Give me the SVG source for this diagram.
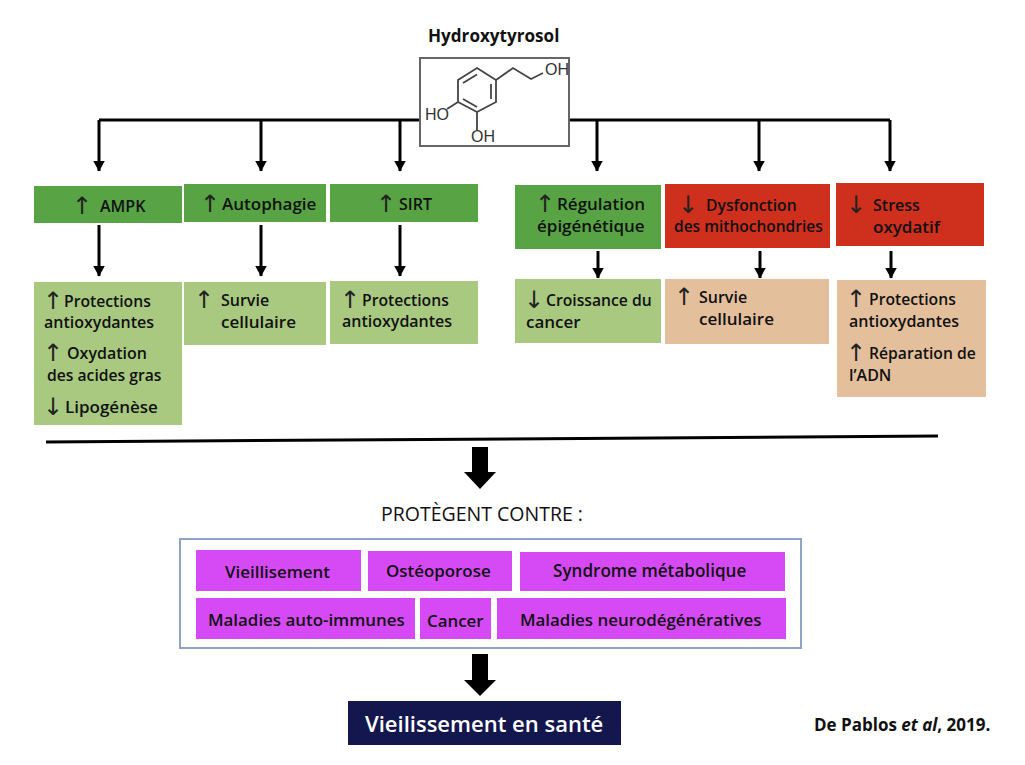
<svg xmlns="http://www.w3.org/2000/svg" width="1025" height="765" viewBox="0 0 1025 765">
<style>
text{font-family:"Open Sans","Liberation Sans",sans-serif;font-size:16px;font-weight:600;fill:#111}
.a{font-family:"DejaVu Sans",sans-serif;font-size:24px;font-weight:400;fill:#222}
.g{fill:#58a444}.l{fill:#a8c97f}.r{fill:#cf2f1d}.t{fill:#e3bf9c}.m{fill:#d64af5}
.c{fill:none;stroke:#000;stroke-width:3}
.b{fill:none;stroke:#444;stroke-width:1.8}
.f{font-family:"Liberation Sans",sans-serif;font-size:16px;font-weight:400;fill:#333}
.d{font-size:16.900px}
.w{font-size:17px}
.n{font-size:15.700px}
</style>
<defs>
<marker id="h" markerUnits="userSpaceOnUse" markerWidth="11" markerHeight="12" refX="10.500" refY="6" orient="auto" viewBox="0 0 11 12"><path d="M0 0L11 6L0 12Z" fill="#000"/></marker>
</defs>
<rect width="1025" height="765" fill="#fff"/>
<g id="connectors">
<path class="c" d="M99 120H420M569 120H890"/>
<path class="c" marker-end="url(#h)" d="M99 120V171"/>
<path class="c" marker-end="url(#h)" d="M261 120V171"/>
<path class="c" marker-end="url(#h)" d="M400 120V171"/>
<path class="c" marker-end="url(#h)" d="M597 120V171"/>
<path class="c" marker-end="url(#h)" d="M759 120V171"/>
<path class="c" marker-end="url(#h)" d="M890 120V171"/>
<path class="c" marker-end="url(#h)" d="M99 225V276"/>
<path class="c" marker-end="url(#h)" d="M261 225V276"/>
<path class="c" marker-end="url(#h)" d="M400 225V276"/>
<path class="c" marker-end="url(#h)" d="M598 251V278"/>
<path class="c" marker-end="url(#h)" d="M760 251V278"/>
<path class="c" marker-end="url(#h)" d="M891 251V278"/>
<path d="M46 442L938 436" fill="none" stroke="#000" stroke-width="3"/>
<path d="M472 447H488V472H496L480 489L464 472H472Z" fill="#000"/>
<path d="M472 654H488V680H496L480 696L464 680H472Z" fill="#000"/>
</g>
<g id="hydroxytyrosol">
<text x="428" y="42" style="font-size:17.100px;font-weight:700">Hydroxytyrosol</text>
<rect x="420" y="58" width="149" height="88" fill="#fff" stroke="#666" stroke-width="2"/>
<path class="b" d="M477 68L496 80V102L477 112L458 102V80Z M463 83L477 74.500M491 84V99M463 99L477 107M496 80L513 68L531 79L543 73M458 102L447 109M477 112V130"/>
<text class="f" x="545" y="75">OH</text>
<text class="f" x="425" y="120">HO</text>
<text class="f" x="471" y="142">OH</text>
</g>
<g id="ampk"><rect class="g" x="34" y="186" width="148" height="37"/><text y="212"><tspan class="a" x="72" dy="1.500">↑</tspan><tspan x="100" dy="-1.500">AMPK</tspan></text></g>
<g id="autophagie"><rect class="g" x="184" y="184" width="142" height="38"/><text y="210"><tspan class="a" x="200" dy="1.500">↑</tspan><tspan class="w" x="222" dy="-1.500">Autophagie</tspan></text></g>
<g id="sirt"><rect class="g" x="330" y="184" width="148" height="38"/><text y="210"><tspan class="a" x="376" dy="1.500">↑</tspan><tspan x="399" dy="-1.500">SIRT</tspan></text></g>
<g id="regulation"><rect class="g" x="515" y="185" width="146" height="64"/><text y="210"><tspan class="a" x="535" dy="1.500">↑</tspan><tspan class="w" x="557" dy="-1.500">Régulation</tspan></text><text class="w" x="537" y="232">épigénétique</text></g>
<g id="dysfonction"><rect class="r" x="665" y="184" width="165" height="64"/><text y="211"><tspan class="a" x="678" dy="1.500">↓</tspan><tspan class="n" x="706" dy="-1.500">Dysfonction</tspan></text><text x="674" y="232" style="font-size:15.500px">des mithochondries</text></g>
<g id="stress"><rect class="r" x="836" y="183" width="148" height="63"/><text y="211"><tspan class="a" x="846" dy="1.500">↓</tspan><tspan x="873" dy="-1.500">Stress</tspan></text><text class="w" x="873" y="233">oxydatif</text></g>
<g id="ampk-effets"><rect class="l" x="34" y="282" width="148" height="143"/>
<text y="307"><tspan class="a" x="43" dy="1.500">↑</tspan><tspan class="n" x="64" dy="-1.500">Protections</tspan></text><text x="44" y="328">antioxydantes</text>
<text y="359"><tspan class="a" x="43" dy="1.500">↑</tspan><tspan x="67" dy="-1.500">Oxydation</tspan></text><text class="n" x="47" y="381">des acides gras</text>
<text y="413"><tspan class="a" x="43" dy="1.500">↓</tspan><tspan class="w" x="65" dy="-1.500">Lipogénèse</tspan></text></g>
<g id="autophagie-effets"><rect class="l" x="184" y="282" width="142" height="63"/><text y="306"><tspan class="a" x="194" dy="1.500">↑</tspan><tspan x="221" dy="-1.500">Survie</tspan></text><text class="w" x="221" y="328">cellulaire</text></g>
<g id="sirt-effets"><rect class="l" x="330" y="281" width="148" height="63"/><text y="306"><tspan class="a" x="340" dy="1.500">↑</tspan><tspan class="n" x="362" dy="-1.500">Protections</tspan></text><text x="342" y="327">antioxydantes</text></g>
<g id="regulation-effets"><rect class="l" x="515" y="279" width="146" height="64"/><text y="306"><tspan class="a" x="524" dy="1.500">↓</tspan><tspan class="n" x="546" dy="-1.500">Croissance du</tspan></text><text class="w" x="526" y="328">cancer</text></g>
<g id="dysfonction-effets"><rect class="t" x="665" y="279" width="164" height="65"/><text y="303"><tspan class="a" x="674" dy="1.500">↑</tspan><tspan x="699" dy="-1.500">Survie</tspan></text><text class="w" x="699" y="325">cellulaire</text></g>
<g id="stress-effets"><rect class="t" x="837" y="280" width="149" height="117"/>
<text y="305"><tspan class="a" x="846" dy="1.500">↑</tspan><tspan class="n" x="869" dy="-1.500">Protections</tspan></text><text x="849" y="327">antioxydantes</text>
<text y="359"><tspan class="a" x="846" dy="1.500">↑</tspan><tspan class="n" x="869" dy="-1.500">Réparation de</tspan></text><text x="849" y="381">l’ADN</text></g>
<g id="protegent"><text x="381" y="521" style="font-size:19.500px;font-weight:500">PROTÈGENT CONTRE :</text></g>
<g id="maladies"><rect x="180" y="539" width="621" height="109" fill="#fff" stroke="#8fa3c8" stroke-width="2"/></g>
<g id="vieillisement"><rect class="m" x="196" y="550" width="165" height="41"/><text class="d" x="225" y="578">Vieillisement</text></g>
<g id="osteoporose"><rect class="m" x="368" y="551" width="144" height="40"/><text class="d" x="386" y="577">Ostéoporose</text></g>
<g id="syndrome"><rect class="m" x="520" y="552" width="265" height="39"/><text x="553" y="577" style="font-size:17.100px">Syndrome métabolique</text></g>
<g id="auto-immunes"><rect class="m" x="196" y="598" width="219" height="41"/><text class="d" x="208" y="626">Maladies auto-immunes</text></g>
<g id="cancer"><rect class="m" x="420" y="598" width="71" height="41"/><text class="d" x="427" y="627">Cancer</text></g>
<g id="neuro"><rect class="m" x="497" y="598" width="289" height="41"/><text class="d" x="520" y="626">Maladies neurodégénératives</text></g>
<g id="sante"><rect x="348" y="701" width="273" height="44" fill="#14174e"/><text x="365" y="732" style="font-size:22px;fill:#fff">Vieilissement en santé</text></g>
<g id="source"><text x="814" y="731" style="font-size:17px;font-weight:700">De Pablos <tspan font-style="italic">et al</tspan>, 2019.</text></g>
</svg>
